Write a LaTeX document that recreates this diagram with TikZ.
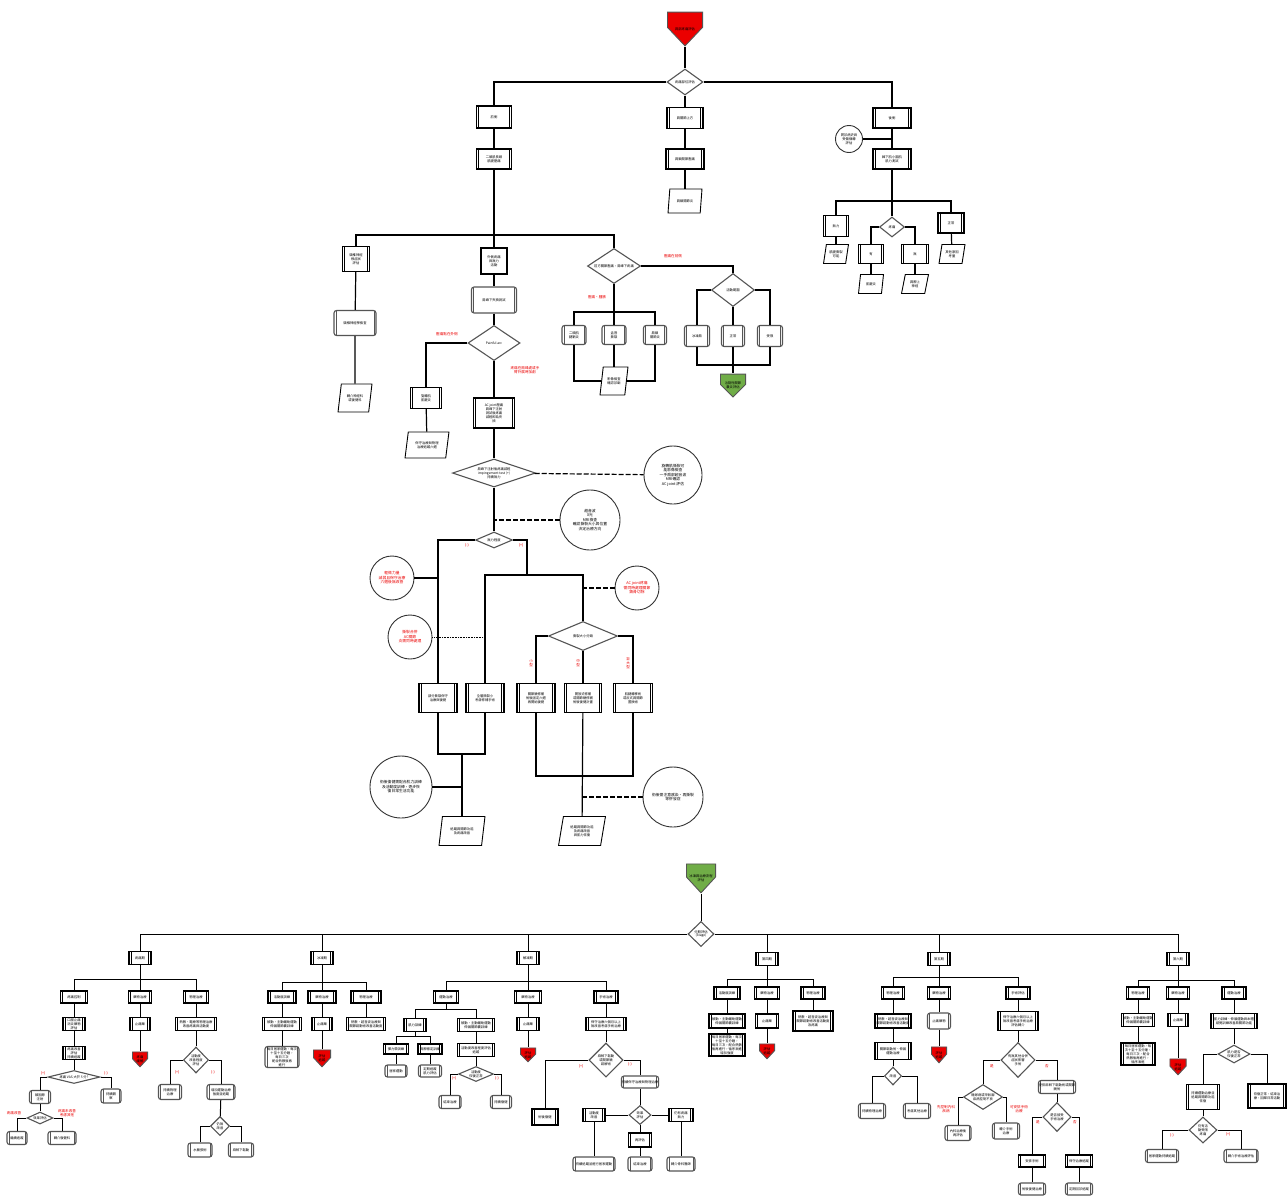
\documentclass[tikz,border=0pt]{standalone}
\usepackage{fontspec}
\newfontfamily\cjk{Noto Sans CJK TC}
\usetikzlibrary{shapes.geometric, calc}
\definecolor{flowred}{RGB}{235,0,0}
\definecolor{flowgreen}{RGB}{112,173,71}
\definecolor{dialine}{RGB}{85,85,85}
\newcommand{\zh}{\cjk\fontsize{3.3}{3.9}\selectfont}
\newcommand{\zhnote}{\cjk\fontsize{3.8}{4.5}\selectfont}
\newcommand{\zhlbl}{\cjk\fontsize{3.6}{4.2}\selectfont}
\tikzset{
  every node/.append style={align=center, inner sep=0.4pt, font=\zh},
  procbox/.style 2 args={draw, line width=1.1pt, fill=white,
    minimum width=#1pt, minimum height=#2pt,
    path picture={\draw[line width=0.7pt]
      ([xshift=2.2pt]path picture bounding box.north west) -- ([xshift=2.2pt]path picture bounding box.south west)
      ([xshift=-2.2pt]path picture bounding box.north east) -- ([xshift=-2.2pt]path picture bounding box.south east);}},
  plainbox/.style 2 args={draw, line width=1.1pt, fill=white,
    minimum width=#1pt, minimum height=#2pt},
  storebox/.style 2 args={draw=dialine, line width=1.1pt, fill=white, rounded corners=2.5pt,
    minimum width=#1pt, minimum height=#2pt,
    path picture={\draw[line width=0.6pt, dialine]
      ([xshift=2pt]path picture bounding box.north west) -- ([xshift=2pt]path picture bounding box.south west)
      ([xshift=-2pt]path picture bounding box.north east) -- ([xshift=-2pt]path picture bounding box.south east);}},
  databox/.style 2 args={trapezium, trapezium left angle=75, trapezium right angle=105,
    trapezium stretches=true, draw, line width=0.9pt, fill=white,
    minimum width=#1pt, minimum height=#2pt},
  decision/.style 2 args={diamond, draw=dialine, line width=1.1pt, fill=white, inner sep=0pt,
    minimum width=#1pt, minimum height=#2pt,
    /utils/exec={\pgfmathsetmacro\decasp{#1/#2}}, aspect=\decasp},
  offpage/.style n args={3}{rectangle, draw=none, fill=white, inner sep=0pt,
    minimum width=#1pt, minimum height=#2pt, anchor=north,
    path picture={\fill[#3, draw=dialine, line width=0.9pt]
      ($(path picture bounding box.north west)+(0.45pt,-0.45pt)$)
      -- ($(path picture bounding box.north east)+(-0.45pt,-0.45pt)$)
      -- ($(path picture bounding box.north east)!0.45!(path picture bounding box.south east)+(-0.45pt,0pt)$)
      -- ($(path picture bounding box.south)+(0pt,0.7pt)$)
      -- ($(path picture bounding box.north west)!0.45!(path picture bounding box.south west)+(0.45pt,0pt)$)
      -- cycle;}},
  notecirc/.style={circle, draw=black!80, line width=0.9pt, fill=white,
    minimum size=#1pt, inner sep=0pt, font=\zhnote},
  redlbl/.style={text=flowred, font=\zhlbl},
  dashline/.style={dash pattern=on 5pt off 2pt},
  dotline/.style={densely dotted, line width=0.6pt},
}
\begin{document}
\begin{tikzpicture}[x=1pt, y=-1pt, line width=1.2pt]
\useasboundingbox (0,0) rectangle (1287,1202);
\fill[white] (0,0) rectangle (1287,1202);

% ── Upper chart ──────────────────────────────────────────────
\node[offpage={36}{35}{flowred}] (start) at (685,11) {肩部疼痛評估};
\node[decision={36}{26}] (d0) at (685,82) {疼痛部位評估};

\node[procbox={35}{22}] (a1) at (494,117) {前側};
\node[procbox={35}{20}] (a2) at (494,159) {二頭肌長頭\\肌腱壓痛};
\node[procbox={36}{21}] (b1) at (685,118) {肩關節上方};
\node[procbox={38}{20}] (b2) at (685,159) {肩鎖關節壓痛};
\node[databox={34}{24}] (b3) at (685,201) {肩鎖關節炎};
\node[procbox={38}{20}] (c1) at (892,118) {後側};
\node[notecirc=27, font=\zh] (c0) at (849,139) {問診病史與\\受傷機轉\\評估};
\node[procbox={38}{20}] (c2) at (892,159) {棘下肌小圓肌\\肌力測試};

% posterior branch
\coordinate (cbus) at (892,201);
\node[procbox={25}{21}] (c3) at (836,226) {無力};
\node[decision={25}{20}] (c4) at (892,227) {疼痛};
\node[procbox={25}{19}] (c5) at (871,254) {有};
\node[procbox={27}{19}] (c6) at (915,254) {無};
\node[procbox={26}{20}] (c7) at (951,223) {正常};
\node[databox={25}{19}] (c3p) at (836,254) {肌腱撕裂\\可能};
\node[databox={25}{19}] (c5p) at (871,284) {肌腱炎};
\node[databox={27}{19}] (c6p) at (915,284) {肩胛上\\神經};
\node[databox={26}{19}] (c7p) at (952,254) {其他原因\\考量};

\draw (start) -- (d0);
\draw (d0.west) -| (a1.north);
\draw (d0.east) -| (c1.north);
\draw (d0) -- (b1);
\draw (a1) -- (a2);
\draw (b1) -- (b2) -- (b3);
\draw (c1) -- (c2);
\draw (c0) -- (c0 -| c1);
\draw (c2) -- (c4);
\draw (c3.north) |- (cbus) -| (c7.north);
\draw (c4.west) -| (c5.north);
\draw (c4.east) -| (c6.north);
\draw (c3) -- (c3p);
\draw (c5) -- (c5p);
\draw (c6) -- (c6p);
\draw (c7) -- (c7p);

% anterior branch
\coordinate (mbus) at (494,235);
\node[procbox={27}{25}] (d1) at (356,259) {頸椎神經\\根症狀\\評估};
\node[storebox={42}{25}] (d2) at (355,323) {頸椎神經學檢查};
\node[databox={34}{28}] (d3) at (355,398) {轉介神經科\\或復健科};
\node[plainbox={26}{26}] (e1) at (494,261) {外側疼痛\\與無力\\活動};
\node[storebox={45}{26}] (e2) at (494,300) {肩峰下夾擠測試};
\node[decision={52}{35}] (e3) at (494,343) {Painful arc};
\node[procbox={31}{21}] (e4) at (426,398) {旋轉肌\\肌腱炎};
\node[databox={44}{26}] (e5) at (427,445) {保守治療與物理\\治療追蹤六週};
\node[procbox={41}{30}] (e6) at (494,413) {AC joint壓痛\\肩峰下注射\\測試後疼痛\\減輕即為夾\\擠};
\node[decision={83}{28}] (e7) at (494,473) {肩峰下注射後疼痛減輕\\impingement test (+)\\持續無力};
\node[notecirc=58] (e8) at (673,475) {旋轉肌撕裂可\\能影像檢查\\一手肩部超音波\\MRI確認\\AC joint 評估};
\node[decision={37}{16}] (e9) at (494,540) {無力程度};
\node[notecirc=60] (e10) at (590,520) {超音波\\X光\\MRI檢查\\確認撕裂大小與位置\\決定治療方向};
\node[redlbl] (le3a) at (447,334) {壓痛點在外側};
\node[redlbl] (le3b) at (525,370) {疼痛在肩峰處或手\\臂外展時加劇};
\node[redlbl] (le9a) at (467,545) {(-)};
\node[redlbl] (le9b) at (521,545) {(+)};

\draw (a2) -- (e1);
\draw (d1) -- (d2) -- (d3);
\draw (e1) -- (e2) -- (e3);
\draw (e3.west) -| (e4.north);
\draw (e4) -- (e5);
\draw (e3) -- (e6) -- (e7);
\draw[dashline] (e7) -- (e8);
\draw (e7) -- (e9);
\draw[dashline] (e10) -- (e10 -| e9);

% weakness branch
\coordinate (fbus) at (527,575);
\node[notecirc=44, text=flowred] (f0) at (392,578) {輕微力量\\減弱且保守治療\\六週後無改善};
\node[notecirc=44, text=flowred] (f3) at (410,637) {撕裂合併\\AC關節\\炎需同時處理};
\node[notecirc=44, text=flowred] (f5) at (637,588) {AC joint疼痛\\需同時處理關節\\鎖骨切除};
\node[decision={69}{29}] (f6) at (583,636) {撕裂大小分類};
\node[procbox={38}{29}] (f1) at (438,698) {部分撕裂保守\\治療與復健};
\node[procbox={38}{29}] (f2) at (485,698) {全層撕裂小\\考慮修補手術};
\node[procbox={38}{29}] (f7) at (536,698) {關節鏡修補\\術後固定六週\\再開始復健};
\node[procbox={37}{29}] (f8) at (583,698) {開放式修補\\或關節鏡修補\\術後復健計畫};
\node[procbox={39}{29}] (f9) at (633,698) {肌腱轉移術\\或反式肩關節\\置換術};
\node[redlbl, anchor=east] (lf7) at (534,663) {小\\型};
\node[redlbl, anchor=east] (lf8) at (581,663) {中\\型};
\node[redlbl, anchor=east] (lf9) at (631,663) {巨\\大\\型};
\node[databox={46}{29}] (f10) at (462,831) {追蹤肩關節功能\\及疼痛改善};
\node[notecirc=62] (f11) at (401,787) {術後復健需配合肌力訓練\\及活動度訓練，逐步恢\\復日常生活功能};
\node[databox={47}{29}] (f12) at (582,831) {追蹤肩關節功能\\及疼痛改善\\與肌力恢復};
\node[notecirc=60] (f13) at (673,797) {術後需注意感染、再撕裂\\等併發症};

\draw (e9.west) -| (f1.north);
\draw (f0) -- (f0 -| f1);
\draw (e9.east) -| (fbus);
\draw (f2.north) |- (fbus) -| (f6.north);
\draw[dotline] (f3) -- (f3 -| f2);
\draw[dashline] (f5) -- (f5 -| f6);
\draw (f6.west) -| (f7.north);
\draw (f6) -- (f8);
\draw (f6.east) -| (f9.north);
\coordinate (jbus1) at (462,754);
\coordinate (jbus2) at (583,776);
\draw (f1.south) |- (jbus1) -| (f2.south);
\draw (jbus1) -- (f10);
\draw (f11) -- (f11 -| f10);
\draw (f7.south) |- (jbus2) -| (f9.south);
\draw (f8) -- (f12);
\draw[dashline] (f13) -- (f13 -| f12);

% superior-lateral branch
\coordinate (gbus) at (614,312);
\coordinate (gjoin) at (733,365);
\node[decision={53}{35}] (g1) at (614,266) {前方關節壓痛，肩峰下疼痛};
\node[decision={43}{33}] (g2) at (733,290) {活動範圍};
\node[storebox={24}{19}] (g3) at (574,335) {二頭肌\\腱鞘炎};
\node[storebox={24}{19}] (g4) at (614,335) {盂唇\\撕裂};
\node[storebox={23}{19}] (g5) at (655,335) {肩鎖\\關節炎};
\node[databox={28}{28}] (g6) at (614,381) {影像檢查\\確認診斷};
\node[storebox={25}{21}] (g7) at (697,336) {冰凍肩};
\node[storebox={23}{21}] (g8) at (733,336) {正常};
\node[storebox={25}{21}] (g9) at (770,336) {受限};
\node[offpage={26}{24}{flowgreen}] (g10) at (733,373) {沾黏性關節\\囊炎評估};
\node[redlbl] (lg1a) at (673,256) {壓痛在前側};
\node[redlbl] (lg1b) at (597,297) {壓痛、腫脹};

\draw (d1.north) |- (mbus) -| (g1.north);
\draw (g1.east) -| (g2.north);
\draw (g1) -- (g4);
\draw (g3.north) |- (gbus) -| (g5.north);
\draw (g4) -- (g6);
\draw (g3.south) |- (g6.west);
\draw (g5.south) |- (g6.east);
\draw (g2.west) -| (g7.north);
\draw (g2) -- (g8);
\draw (g2.east) -| (g9.north);
\draw (g7.south) |- (gjoin) -| (g9.south);
\draw (g8) -- (g10);

% ── Lower chart ──────────────────────────────────────────────
\begin{scope}[line width=1pt]
\node[offpage={30}{30}{flowgreen}] (h0) at (701,863) {冰凍肩治療流程\\評估};
\node[decision={26}{25}] (h1) at (701,934) {分期評估\\(Stage)};
\node[procbox={22}{13}] (k0) at (140,958) {疼痛期};
\node[procbox={22}{13}] (m0) at (322,958) {冰凍期};
\node[procbox={22}{13}] (n0) at (528,958) {解凍期};
\node[procbox={22}{13}] (p0) at (767,959) {第四期};
\node[procbox={22}{13}] (q0) at (939,959) {第五期};
\node[procbox={22}{13}] (r0) at (1178,959) {第六期};
\draw (h0) -- (h1);
\draw (h1.west) -| (k0.north);
\draw (h1.east) -| (r0.north);
\foreach \c in {m0,n0,p0,q0} {
  \draw (\c) -- (\c |- h1);
}

% stage 1
\coordinate (kbus) at (140,979);
\node[procbox={27}{12}] (k1) at (74,997) {疼痛控制};
\node[procbox={23}{12}] (k2) at (140,997) {藥物治療};
\node[procbox={25}{12}] (k3) at (196,997) {物理治療};
\node[procbox={22}{13}] (k11) at (74,1024) {口服止痛\\消炎藥物\\評估};
\node[procbox={22}{13}] (k12) at (74,1053) {疼痛改善\\評估\\持續追蹤};
\node[decision={52}{13}] (k13) at (74,1077) {疼痛 VAS 大於 5 分?};
\node[storebox={21}{13}] (k14) at (40,1097) {類固醇\\注射};
\node[decision={26}{12}] (k15) at (40,1118) {效果評估};
\node[storebox={20}{13}] (k16) at (17,1138) {繼續追蹤};
\node[storebox={28}{13}] (k17) at (62,1138) {轉介復健科};
\node[storebox={20}{14}] (k18) at (111,1096) {持續觀\\察};
\node[procbox={20}{13}] (k21) at (140,1024) {止痛藥};
\node[offpage={16}{16}{flowred}] (k22) at (140,1051) {疼痛\\緩解};
\node[procbox={41}{13}] (k31) at (196,1024) {熱敷、電療等物理治療\\改善疼痛與活動度};
\node[decision={25}{26}] (k32) at (196,1060) {活動度\\改善程度\\評估};
\node[storebox={23}{15}] (k33) at (170,1092) {持續物理\\治療};
\node[storebox={28}{15}] (k34) at (221,1092) {增加運動治療\\強度並追蹤};
\node[decision={19}{19}] (k35) at (220,1126) {仍無\\改善};
\node[storebox={24}{14}] (k36) at (200,1150) {水擴張術};
\node[storebox={25}{14}] (k37) at (241,1150) {麻醉下鬆動};
\node[redlbl] (lk13a) at (43,1073) {(+)};
\node[redlbl] (lk13b) at (106,1073) {(-)};
\node[redlbl] (lk15a) at (14,1113) {疼痛改善};
\node[redlbl] (lk15b) at (67,1113) {疼痛未改善\\考慮其他};
\node[redlbl] (lk32a) at (177,1072) {(+)};
\node[redlbl] (lk32b) at (213,1072) {(-)};
\draw (k0) -- (k2);
\draw (k1.north) |- (kbus) -| (k3.north);
\draw (k1) -- (k11) -- (k12) -- (k13);
\draw (k13.west) -| (k14.north);
\draw (k13.east) -| (k18.north);
\draw (k14) -- (k15);
\draw (k15.west) -| (k16.north);
\draw (k15.east) -| (k17.north);
\draw (k2) -- (k21) -- (k22);
\draw (k3) -- (k31) -- (k32);
\draw (k32.west) -| (k33.north);
\draw (k32.east) -| (k34.north);
\draw (k34) -- (k35);
\draw (k35.west) -| (k36.north);
\draw (k35.east) -| (k37.north);

% stage 2
\coordinate (mbus2) at (322,982);
\node[procbox={28}{12}] (m1) at (282,997) {活動度訓練};
\node[procbox={28}{12}] (m2) at (322,997) {藥物治療};
\node[procbox={30}{12}] (m3) at (366,997) {物理治療};
\node[procbox={39}{13}] (m11) at (282,1024) {被動、主動輔助運動\\伸展關節囊訓練};
\node[storebox={34}{21}] (m12) at (282,1057) {每日居家運動，每次\\十至十五分鐘，\\每日三次\\配合熱敷後再\\進行};
\node[procbox={20}{13}] (m21) at (322,1024) {止痛藥};
\node[offpage={18}{18}{flowred}] (m22) at (322,1049) {評估\\追蹤};
\node[procbox={39}{13}] (m31) at (366,1024) {熱敷、超音波治療與\\關節鬆動術改善活動度};
\draw (m0) -- (m2);
\draw (m1.north) |- (mbus2) -| (m3.north);
\draw (m1) -- (m11) -- (m12);
\draw (m2) -- (m21) -- (m22);
\draw (m3) -- (m31);

% stage 3
\coordinate (nbus) at (528,981);
\coordinate (n1bus) at (446,1009);
\coordinate (n11bus) at (415,1036);
\node[procbox={25}{12}] (n1) at (446,997) {運動治療};
\node[procbox={27}{12}] (n2) at (528,997) {藥物治療};
\node[procbox={24}{12}] (n3) at (606,997) {手術治療};
\node[procbox={22}{13}] (n11) at (415,1025) {肌力訓練};
\node[procbox={37}{13}] (n12) at (476,1025) {被動、主動輔助運動\\伸展關節囊訓練};
\node[procbox={25}{10}] (n111) at (396,1049) {彈力帶訓練};
\node[procbox={24}{10}] (n112) at (430,1049) {肩胛穩定訓練};
\node[storebox={22}{12}] (n113) at (396,1071) {居家運動};
\node[storebox={23}{12}] (n114) at (430,1071) {定期追蹤\\肌力評估};
\node[procbox={37}{13}] (n121) at (476,1050) {活動度改善程度評估\\追蹤};
\node[decision={35}{15}] (n122) at (476,1074) {活動度\\恢復正常};
\node[storebox={22}{13}] (n123) at (450,1102) {結束治療};
\node[storebox={21}{13}] (n124) at (501,1102) {持續復健};
\node[procbox={22}{13}] (n21) at (528,1024) {止痛藥};
\node[offpage={16}{15}{flowred}] (n22) at (528,1047) {評估\\追蹤};
\node[procbox={40}{13}] (n31) at (606,1024) {保守治療六個月以上\\無改善考慮手術治療};
\node[decision={34}{34}] (n32) at (606,1060) {麻醉下鬆動\\或關節鏡\\鬆解術};
\node[procbox={26}{16}] (n33) at (545,1117) {術後復健};
\node[storebox={37}{12}] (n34) at (640,1082) {持續保守治療與物理治療};
\node[decision={22}{19}] (n35) at (640,1115) {效果\\評估};
\node[procbox={22}{13}] (n36) at (594,1115) {活動度\\改善};
\node[procbox={24}{13}] (n37) at (681,1115) {仍有疼痛\\無力};
\node[procbox={23}{14}] (n38) at (640,1140) {再評估};
\node[storebox={24}{14}] (n39) at (640,1164) {結束治療};
\node[storebox={42}{14}] (n40) at (594,1164) {持續追蹤並進行居家運動};
\node[storebox={28}{14}] (n41) at (681,1164) {轉介骨科醫師};
\node[redlbl] (ln122a) at (454,1078) {(+)};
\node[redlbl] (ln122b) at (497,1078) {(-)};
\node[redlbl] (ln32a) at (581,1066) {(+)};
\node[redlbl] (ln32b) at (630,1064) {(-)};
\draw (n0) -- (n2);
\draw (n1.north) |- (nbus) -| (n3.north);
\draw (n1) -- (n1bus);
\draw (n11.north) |- (n1bus) -| (n12.north);
\draw (n11) -- (n11bus);
\draw (n111.north) |- (n11bus) -| (n112.north);
\draw (n111) -- (n113);
\draw (n112) -- (n114);
\draw (n12) -- (n121) -- (n122);
\draw (n122.west) -| (n123.north);
\draw (n122.east) -| (n124.north);
\draw (n2) -- (n21) -- (n22);
\draw (n3) -- (n31) -- (n32);
\draw (n32.west) -| (n33.north);
\draw (n32.east) -| (n34.north);
\draw (n34) -- (n35);
\draw (n35) -- (n36);
\draw (n35) -- (n37);
\draw (n35) -- (n38) -- (n39);
\draw (n36) -- (n40);
\draw (n37) -- (n41);

% stage 4
\coordinate (pbus) at (767,979);
\node[procbox={26}{12}] (p1) at (727,993) {活動度訓練};
\node[procbox={25}{12}] (p2) at (767,993) {藥物治療};
\node[procbox={24}{12}] (p3) at (813,993) {物理治療};
\node[procbox={36}{14}] (p11) at (727,1021) {被動、主動輔助運動\\伸展關節囊訓練};
\node[procbox={36}{22}] (p12) at (727,1045) {每日居家運動，每次\\十至十五分鐘，\\每日三次，配合熱敷\\後再進行，循序漸進\\增加強度};
\node[procbox={23}{14}] (p21) at (767,1021) {止痛藥};
\node[offpage={16}{16}{flowred}] (p22) at (767,1043) {評估\\追蹤};
\node[procbox={40}{20}] (p31) at (813,1021) {熱敷、超音波治療與\\關節鬆動術改善活動度\\及疼痛};
\draw (p0) -- (p2);
\draw (p1.north) |- (pbus) -| (p3.north);
\draw (p1) -- (p11) -- (p12);
\draw (p2) -- (p21) -- (p22);
\draw (p3) -- (p31);

% stage 5
\coordinate (qbus) at (939,977);
\node[procbox={23}{12}] (q1) at (893,993) {物理治療};
\node[procbox={23}{12}] (q2) at (939,993) {藥物治療};
\node[procbox={24}{12}] (q3) at (1018,993) {手術評估};
\node[procbox={36}{14}] (q11) at (893,1021) {熱敷、超音波治療與\\關節鬆動術改善活動度};
\node[procbox={36}{17}] (q12) at (893,1051) {關節鬆動術、伸展\\運動治療};
\node[decision={17}{18}] (q13) at (893,1076) {改善};
\node[storebox={27}{15}] (q14) at (872,1111) {持續物理治療};
\node[storebox={27}{15}] (q15) at (917,1111) {考慮其他治療};
\node[storebox={23}{16}] (q21) at (939,1021) {止痛藥物};
\node[offpage={16}{17}{flowred}] (q22) at (939,1046) {評估\\追蹤};
\node[procbox={40}{19}] (q31) at (1018,1021) {保守治療六個月以上\\無改善考慮手術治療\\評估轉介};
\node[decision={34}{35}] (q32) at (1018,1060) {有無其他合併\\症狀影響\\手術};
\node[decision={39}{25}] (q33) at (983,1097) {糖尿病或甲狀腺\\疾病控制不良};
\node[storebox={26}{15}] (q34) at (958,1133) {內科治療後\\再評估};
\node[storebox={27}{16}] (q35) at (1006,1131) {轉介手術\\治療};
\node[storebox={37}{13}] (q36) at (1057,1087) {安排麻醉下鬆動術或關節\\鏡術};
\node[decision={28}{29}] (q37) at (1057,1117) {是否接受\\手術治療};
\node[procbox={27}{12}] (q38) at (1032,1161) {安排手術};
\node[storebox={27}{12}] (q39) at (1032,1189) {術後復健治療};
\node[procbox={27}{12}] (q40) at (1079,1161) {保守治療追蹤};
\node[storebox={27}{12}] (q41) at (1079,1189) {定期回診追蹤};
\node[redlbl] (lq32a) at (992,1066) {是};
\node[redlbl] (lq32b) at (1047,1066) {否};
\node[redlbl] (lq33a) at (946,1109) {先控制內科\\疾病};
\node[redlbl] (lq33b) at (1019,1109) {可安排手術\\治療};
\node[redlbl] (lq37a) at (1038,1122) {是};
\node[redlbl] (lq37b) at (1075,1122) {否};
\draw (q0) -- (q2);
\draw (q1.north) |- (qbus) -| (q3.north);
\draw (q1) -- (q11) -- (q12) -- (q13);
\draw (q13.west) -| (q14.north);
\draw (q13.east) -| (q15.north);
\draw (q2) -- (q21) -- (q22);
\draw (q3) -- (q31) -- (q32);
\draw (q32.west) -| (q33.north);
\draw (q32.east) -| (q36.north);
\draw (q33.west) -| (q34.north);
\draw (q33.east) -| (q35.north);
\draw (q36) -- (q37);
\draw (q37.west) -| (q38.north);
\draw (q37.east) -| (q40.north);
\draw (q38) -- (q39);
\draw (q40) -- (q41);

% stage 6
\coordinate (rbus) at (1178,980);
\node[procbox={23}{12}] (r1) at (1138,993) {物理治療};
\node[procbox={23}{12}] (r2) at (1178,993) {藥物治療};
\node[procbox={24}{12}] (r3) at (1234,993) {運動治療};
\node[procbox={33}{13}] (r11) at (1138,1020) {被動、主動輔助運動\\伸展關節囊訓練};
\node[procbox={34}{22}] (r12) at (1138,1054) {每日居家運動，每\\次十至十五分鐘，\\每日三次，配合\\熱敷後再進行，\\循序漸進};
\node[procbox={20}{13}] (r21) at (1178,1020) {止痛藥};
\node[offpage={17}{17}{flowred}] (r22) at (1178,1058) {評估\\追蹤};
\node[procbox={46}{15}] (r31) at (1234,1021) {肌力訓練、伸展運動與本體\\感覺訓練改善肩關節功能};
\node[decision={32}{18}] (r32) at (1234,1054) {肌力是否\\恢復正常};
\node[procbox={33}{25}] (r33) at (1203,1097) {持續運動治療並\\追蹤肩關節功能\\恢復};
\node[decision={28}{26}] (r34) at (1203,1130) {仍有活\\動受限\\疼痛};
\node[storebox={33}{13}] (r35) at (1162,1156) {居家運動持續追蹤};
\node[storebox={34}{13}] (r36) at (1241,1156) {轉介手術治療評估};
\node[procbox={38}{24}] (r37) at (1267,1096) {恢復正常，結束治\\療，回歸日常活動};
\node[redlbl] (lr34a) at (1172,1135) {(-)};
\node[redlbl] (lr34b) at (1228,1134) {(+)};
\draw (r0) -- (r2);
\draw (r1.north) |- (rbus) -| (r3.north);
\draw (r1) -- (r11) -- (r12);
\draw (r2) -- (r21) -- (r22);
\draw (r3) -- (r31) -- (r32);
\draw (r32.west) -| (r33.north);
\draw (r32.east) -| (r37.north);
\draw (r33) -- (r34);
\draw (r34.west) -| (r35.north);
\draw (r34.east) -| (r36.north);
\end{scope}

\end{tikzpicture}
\end{document}
